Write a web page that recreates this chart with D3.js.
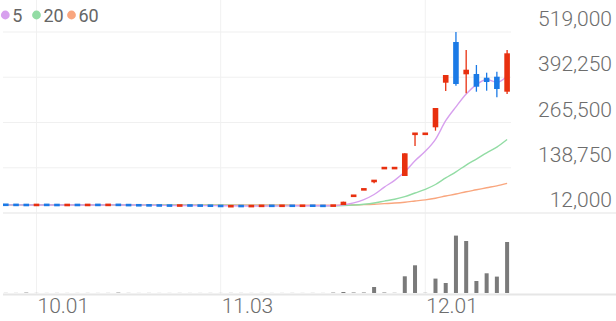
<!DOCTYPE html>
<html>
<head>
<meta charset="utf-8">
<script src="https://cdn.jsdelivr.net/npm/d3@7"></script>
<style>
  html, body { margin: 0; padding: 0; background: #fff; }
  #chart svg { display: block; font-family: Roboto, "Noto Sans", sans-serif; }
</style>
</head>
<body>
<div id="chart"></div>
<script>
// Daily candles 09.26 - 12.11 (trading days only)
var dates = ["09.26","09.29","09.30","10.01","10.02","10.10","10.13","10.14","10.15","10.16",
  "10.17","10.20","10.21","10.22","10.23","10.24","10.27","10.28","10.29","10.30",
  "10.31","11.03","11.04","11.05","11.06","11.07","11.10","11.11","11.12","11.13",
  "11.14","11.17","11.18","11.19","11.20","11.21","11.24","11.25","11.26","11.27",
  "11.28","12.01","12.02","12.03","12.04","12.05","12.08","12.09","12.10","12.11"];

var opens = [35200,34900,34600,34300,34900,34600,34200,34700,34300,34900,
  34400,35000,34400,33900,33600,33300,33000,32600,33200,32900,
  32600,32100,30500,31800,30800,31700,32300,31900,32500,32000,
  32600,32300,31400,34400,60000,78000,101000,137600,137600,115640,
  233600,233600,252050,376970,490970,400500,401340,390980,393780,351760];
var highs = [35200,34900,34600,34800,34900,34600,34700,34700,34800,34900,
  35000,35600,34400,33900,33600,33300,33000,33300,33200,32900,
  32600,32100,31600,31800,31900,32300,32300,32500,32500,32600,
  32600,32300,33900,43650,60460,78380,102470,138050,138050,179220,
  234120,234120,306100,398540,519000,468560,426550,404980,407780,468560];
var lows = [34800,34500,34300,34300,34500,34200,34200,34300,34300,34400,
  34400,34500,33900,33500,33200,32900,32600,32600,32800,32500,
  32200,31400,30500,31200,30800,31700,31900,31900,32000,32000,
  32200,31700,31400,34400,60000,78000,95200,137600,137600,115640,
  199670,233600,242530,353720,368570,347280,351760,354560,336080,345320];
var closes = [34800,34500,34300,34800,34500,34200,34700,34300,34800,34400,
  35000,34500,33900,33500,33200,32900,32600,33300,32800,32500,
  32200,31400,31600,31200,31900,32300,31900,32500,32000,32600,
  32200,31700,33900,43650,60460,78380,102470,138050,138050,179220,
  234120,234120,306100,398540,373330,413380,365760,378930,359320,459320];
var volumes = [6000,5000,20000,5000,4000,5000,4000,4000,5000,4000,
  5000,20000,6000,4000,5000,4000,4000,5000,4000,4000,
  5000,4000,6000,5000,4000,5000,4000,4000,5000,4000,
  5000,4000,20000,50000,25000,25000,300000,25000,10000,835000,
  1385000,10000,720000,500000,2870000,2600000,600000,985000,820000,2550000];

// moving averages as shown on the chart
var ma5 = [34700,34650,34600,34600,34580,34460,34500,34500,34500,34480,
  34640,34600,34520,34260,34020,33600,33220,33100,32960,32820,
  32680,32440,32100,31780,31660,31680,31780,31960,32120,32260,
  32240,32200,32480,34810,40380,49620,63770,84600,103480,127230,
  158380,184710,218320,270420,309240,345090,371420,385990,378140,395340];
var ma20 = [34990,34970,34930,34920,34900,34860,34840,34810,34800,34770,
  34770,34740,34690,34610,34520,34420,34300,34210,34100,33980,
  33850,33690,33560,33380,33250,33150,33010,32920,32780,32690,
  32550,32410,32410,32920,34280,36550,40050,45290,50550,57880,
  67980,78120,91840,110210,127280,146330,163030,180350,196710,218050];
var ma60 = [35000,34990,34980,34970,34970,34950,34950,34940,34930,34920,
  34920,34910,34900,34870,34840,34810,34770,34740,34700,34660,
  34610,34550,34500,34430,34380,34340,34280,34240,34190,34150,
  34110,34050,34030,34180,34600,35320,36450,38170,39880,42290,
  45610,48920,53440,59500,65140,71450,76960,82690,88100,95170];

var priceTicks = [12000, 138750, 265500, 392250, 519000];
var dateTicks = ["10.01", "11.03", "12.01"];
var maNames = ["5", "20", "60"];
var maColors = ["#d7a0ee", "#92dca4", "#f9a67e"];

var upColor = "#e8300f";
var downColor = "#1b7ae6";

var CandleChart = function(props) {
  this.element = props.element;
  this.width = props.width;
  this.height = props.height;
  this.draw();
};

CandleChart.prototype.draw = function() {
  var width = this.width, height = this.height;

  var svg = d3.select(this.element).append("svg")
    .attr("width", width)
    .attr("height", height);

  var x = d3.scalePoint().domain(dates).range([5.8, 507.1]);
  var y = d3.scaleLinear().domain([12000, 519000]).range([213, 32]);
  var yVol = d3.scaleLinear().domain([0, d3.max(volumes)]).range([293, 235.6]);

  // grid
  var grid = svg.append("g");
  grid.selectAll("line.v")
    .data(dateTicks)
    .enter().append("line")
    .attr("x1", function(d) { return x(d); })
    .attr("x2", function(d) { return x(d); })
    .attr("y1", 0).attr("y2", 294)
    .attr("stroke", "#f1f1f1").attr("stroke-width", 1);
  grid.selectAll("line.h")
    .data(priceTicks.slice(1))
    .enter().append("line")
    .attr("x1", 3).attr("x2", 511)
    .attr("y1", function(d) { return y(d); })
    .attr("y2", function(d) { return y(d); })
    .attr("stroke", "#f0f0f0").attr("stroke-width", 1.2);
  // panel separators
  grid.append("line")
    .attr("x1", 3).attr("x2", width)
    .attr("y1", y(12000)).attr("y2", y(12000))
    .attr("stroke", "#ececec").attr("stroke-width", 1.5);
  grid.append("line")
    .attr("x1", 3).attr("x2", width)
    .attr("y1", 294.5).attr("y2", 294.5)
    .attr("stroke", "#e6e6e6").attr("stroke-width", 2);

  // price labels on the right
  svg.append("g").selectAll("text")
    .data(priceTicks)
    .enter().append("text")
    .attr("x", 612)
    .attr("y", function(d) { return y(d) - 6; })
    .attr("text-anchor", "end")
    .attr("fill", "#6d6d6d")
    .attr("font-size", 21)
    .attr("font-weight", 300)
    .text(function(d) { return d3.format(",")(d); });

  // date labels
  svg.append("g").selectAll("text")
    .data(dateTicks)
    .enter().append("text")
    .attr("x", function(d) { return x(d) + 1; })
    .attr("y", 313)
    .attr("fill", "#6d6d6d")
    .attr("font-size", 21)
    .attr("font-weight", 300)
    .text(function(d) { return d; });

  // volume bars
  svg.append("g").selectAll("rect")
    .data(dates)
    .enter().append("rect")
    .attr("x", function(d) { return x(d) - 2; })
    .attr("width", 4)
    .attr("y", function(d, i) { return yVol(volumes[i]); })
    .attr("height", function(d, i) { return 293 - yVol(volumes[i]); })
    .attr("fill", "#7a7a7a");

  // moving average lines
  var maSeries = [ma5, ma20, ma60];
  var line = d3.line()
    .x(function(d, i) { return x(dates[i]); })
    .y(function(d) { return y(d); })
    .curve(d3.curveMonotoneX);
  svg.append("g").selectAll("path")
    .data(maSeries.slice().reverse())
    .enter().append("path")
    .attr("d", line)
    .attr("fill", "none")
    .attr("stroke", function(d, i) { return maColors[2 - i]; })
    .attr("stroke-width", 1.4);

  // candles
  var candles = svg.append("g").selectAll("g")
    .data(dates)
    .enter().append("g");
  var colorOf = function(i) { return closes[i] >= opens[i] ? upColor : downColor; };
  var minBody = 2.6;
  candles.append("line")
    .attr("x1", function(d) { return x(d); })
    .attr("x2", function(d) { return x(d); })
    .attr("y1", function(d, i) { return y(highs[i]); })
    .attr("y2", function(d, i) { return y(lows[i]); })
    .attr("stroke", function(d, i) { return colorOf(i); })
    .attr("stroke-width", 1.3);
  candles.append("rect")
    .attr("x", function(d) { return x(d) - 2.8; })
    .attr("width", 5.6)
    .attr("y", function(d, i) {
      var top = y(Math.max(opens[i], closes[i]));
      var h = y(Math.min(opens[i], closes[i])) - top;
      return h < minBody ? top - (minBody - h) / 2 : top;
    })
    .attr("height", function(d, i) {
      return Math.max(minBody, y(Math.min(opens[i], closes[i])) - y(Math.max(opens[i], closes[i])));
    })
    .attr("fill", function(d, i) { return colorOf(i); });

  // legend
  var legendX = [5.3, 36.5, 71.5];
  var legend = svg.append("g").selectAll("g")
    .data(maNames)
    .enter().append("g")
    .attr("transform", function(d, i) { return "translate(" + legendX[i] + ",15)"; });
  legend.append("circle")
    .attr("r", 4.4)
    .attr("fill", function(d, i) { return maColors[i]; });
  legend.append("text")
    .attr("x", 7)
    .attr("y", 6.5)
    .attr("fill", "#666")
    .attr("font-size", 18)
    .text(function(d) { return d; });
};

var chart = new CandleChart({
  element: document.querySelector("#chart"),
  width: 616,
  height: 321
});
</script>
</body>
</html>
